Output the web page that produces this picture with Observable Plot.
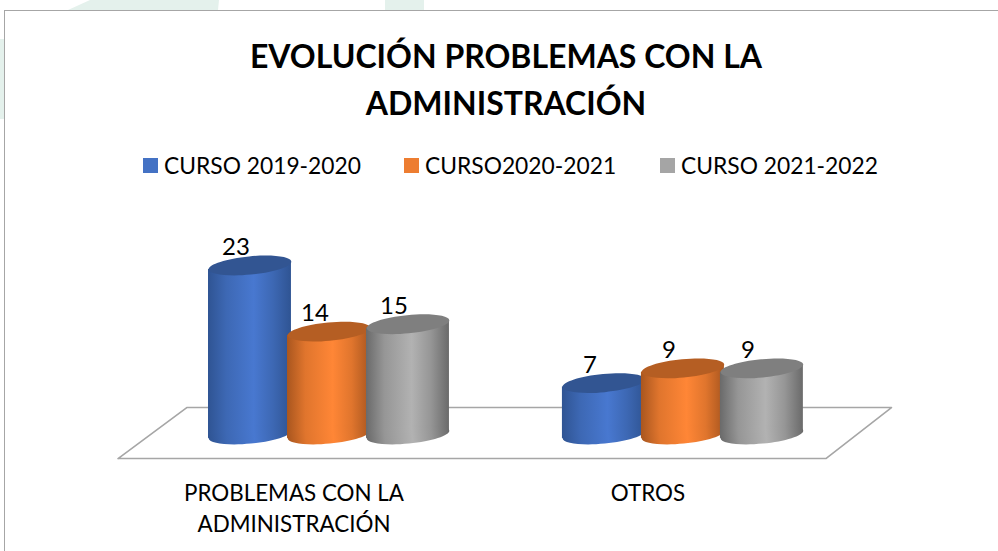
<!DOCTYPE html>
<html lang="es">
<head>
<meta charset="utf-8">
<script src="https://cdn.jsdelivr.net/npm/d3@7"></script>
<script src="https://cdn.jsdelivr.net/npm/@observablehq/plot@0.6"></script>
<style>
  html, body { margin: 0; padding: 0; background: #fff; }
  #page { position: relative; width: 998px; height: 551px; overflow: hidden; font-family: Lato, "Open Sans", sans-serif; color: #000; }
  .wm { position: absolute; background: #e4f1ec; }
  #wm1 { left: 68px; top: 0; width: 151px; height: 10px; clip-path: polygon(22px 0, 151px 0, 150px 10px, 0 10px); }
  #wm2 { left: 385px; top: 0; width: 39px; height: 10px; }
  #wm3 { left: 0; top: 39px; width: 5px; height: 80px; }
  #frame { position: absolute; left: 4px; top: 10px; width: 1100px; height: 600px; box-sizing: border-box; border: 1px solid #a6a6a6; background: #fff; }
  #header { position: absolute; left: 0; top: 0; width: 998px; height: 192px; }
  #title { position: absolute; left: 0; top: 32px; width: 1012px; text-align: center; font-weight: 700; font-size: 32px; line-height: 47px; }
  .leg { position: absolute; top: 151px; height: 28px; line-height: 28px; font-size: 22.8px; white-space: nowrap; }
  .leg i { position: absolute; left: 0; top: 7px; width: 15px; height: 15px; }
  .leg span { position: absolute; left: 21px; top: 0; }
  #chart { position: absolute; left: 0; top: 192px; }
  #chart svg { background: transparent; display: block; }
</style>
</head>
<body>
<div id="page">
  <div class="wm" id="wm1"></div><div class="wm" id="wm2"></div><div class="wm" id="wm3"></div>
  <div id="frame"></div>
  <div id="header">
    <div id="title">EVOLUCIÓN PROBLEMAS CON LA<br>ADMINISTRACIÓN</div>
    <div id="legend"></div>
  </div>
  <div id="chart"></div>
</div>
<script>
const categories = ["PROBLEMAS CON LA\nADMINISTRACIÓN", "OTROS"];
const seriesNames = ["CURSO 2019-2020", "CURSO2020-2021", "CURSO 2021-2022"];
const values2019 = [23, 7];
const values2020 = [14, 9];
const values2021 = [15, 9];
const legendColors = ["#4472c4", "#ed7d31", "#a5a5a5"];
const legendLeft = [143, 404, 660];
const edgeColors = ["#2f5493", "#a9561f", "#6a6a6a"];
const nearColors = ["#3d68b4", "#e0752d", "#969696"];
const midColors = ["#4878d0", "#ff8636", "#b2b2b2"];
const capColors = ["#325592", "#b55e23", "#7f7f7f"];

// Floor of the 3D plot, in chart units (slot, value)
const floorX = [-1.67, 7.29, 8.12, -0.8, -1.67];
const floorY = [-3.27, -3.27, 3.67, 3.67, -3.27];

const groupStep = 4.48;
const halfWidth = 0.525;
const skew = 0.54;
const allValues = [values2019, values2020, values2021];

const pos = (g, s) => g * groupStep + s;

// Flattened cylinder cap as a Plot symbol
const capSymbol = {
  draw(ctx, size) {
    const rx = Math.sqrt(size / Math.PI), ry = rx * 0.22, k = 0.5523;
    ctx.moveTo(-rx, 0);
    ctx.bezierCurveTo(-rx, -k * ry, -k * rx, -ry, 0, -ry);
    ctx.bezierCurveTo(k * rx, -ry, rx, -k * ry, rx, 0);
    ctx.bezierCurveTo(rx, k * ry, k * rx, ry, 0, ry);
    ctx.bezierCurveTo(-k * rx, ry, -rx, k * ry, -rx, 0);
    ctx.closePath();
  }
};

const defs = () => {
  const d = d3.create("svg:defs");
  seriesNames.forEach((_, i) => {
    const g = d.append("linearGradient").attr("id", "cyl" + i).attr("x1", 0).attr("x2", 1).attr("y1", 0).attr("y2", 0);
    [[0, edgeColors[i]], [22, nearColors[i]], [55, midColors[i]], [78, nearColors[i]], [100, edgeColors[i]]]
      .forEach(([o, c]) => g.append("stop").attr("offset", o + "%").attr("stop-color", c));
  });
  return d.node();
};

const marks = [
  defs,
  Plot.line(floorX.map((x, i) => ({x, y: floorY[i]})), {x: "x", y: "y", stroke: "#a6a6a6", strokeWidth: 1.6})
];

categories.forEach((_, g) => {
  allValues.forEach((vals, s) => {
    const v = vals[g], c = pos(g, s);
    const side = [
      {x: c - halfWidth, y1: -skew, y2: v - skew},
      {x: c + halfWidth, y1: skew, y2: v + skew}
    ];
    const fill = `url(#cyl${s})`;
    marks.push(
      Plot.areaY(side, {x: "x", y1: "y1", y2: "y2", fill}),
      Plot.dot([{x: c, y: 0}], {x: "x", y: "y", r: 41.5, symbol: capSymbol, rotate: -5.5, fill, stroke: "none"}),
      Plot.dot([{x: c, y: v}], {x: "x", y: "y", r: 41.5, symbol: capSymbol, rotate: -5.5, fill: capColors[s], stroke: "none"})
    );
  });
});

const labelRows = categories.flatMap((_, g) => allValues.map((vals, s) => ({x: pos(g, s), y: vals[g]})));
marks.push(
  Plot.text(labelRows, {x: "x", y: "y", text: d => String(d.y), dx: -14, dy: -18, fontSize: 24, fill: "#000"}),
  Plot.text(categories.map((name, g) => ({name, x: pos(g, 1)})), {
    x: "x", y: () => floorY[0], text: "name", dx: -35, dy: 20, lineAnchor: "top",
    fontSize: 22.4, lineHeight: 31 / 22.4, fill: "#000"
  })
);

const chart = Plot.plot({
  width: 998,
  height: 359,
  margin: 0,
  style: {fontFamily: "Lato, 'Open Sans', sans-serif", background: "transparent", overflow: "visible"},
  x: {domain: [-3.158, 9.475], axis: null},
  y: {domain: [-15.92, 32.93], axis: null},
  marks
});
document.getElementById("chart").appendChild(chart);

const legend = document.getElementById("legend");
seriesNames.forEach((name, i) => {
  const item = document.createElement("div");
  item.className = "leg";
  item.style.left = legendLeft[i] + "px";
  const sw = document.createElement("i");
  sw.style.background = legendColors[i];
  const t = document.createElement("span");
  t.textContent = name;
  item.append(sw, t);
  legend.appendChild(item);
});
</script>
</body>
</html>
